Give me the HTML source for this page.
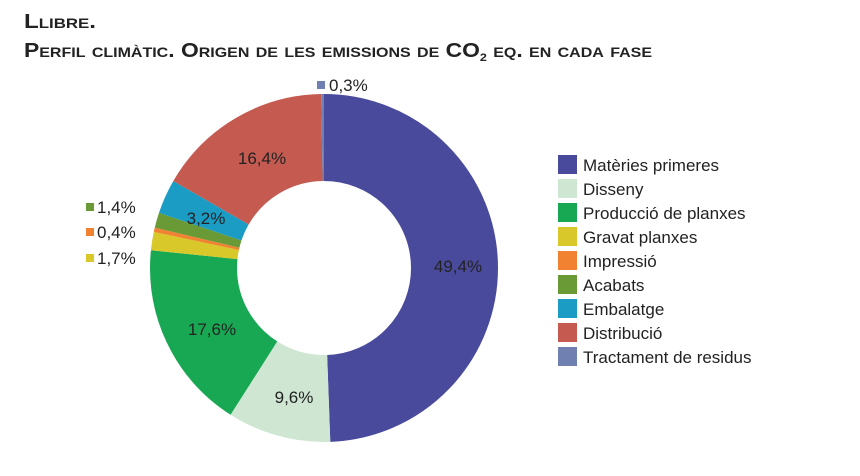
<!DOCTYPE html>
<html><head><meta charset="utf-8"><style>
body{margin:0;background:#fff;}
svg{display:block;font-family:"Liberation Sans Narrow","Liberation Sans",sans-serif;}
</style></head><body>
<svg width="860" height="476" viewBox="0 0 860 476">
<text x="24" y="28" font-size="20" font-weight="bold" fill="#222" style="font-variant:small-caps" textLength="72" lengthAdjust="spacingAndGlyphs">Llibre.</text>
<text x="24" y="57" font-size="20" font-weight="bold" fill="#222" style="font-variant:small-caps" textLength="628" lengthAdjust="spacingAndGlyphs">Perfil climàtic. Origen de les emissions de CO<tspan font-size="11" dy="4">2</tspan><tspan dy="-4"> eq. en cada fase</tspan></text>
<g transform="translate(324,268) rotate(-90)" fill="none" stroke-width="87">
<circle r="130.5" stroke="#4a4a9c" stroke-dasharray="405.06 819.96" stroke-dashoffset="0"/>
<circle r="130.5" stroke="#cfe6d3" stroke-dasharray="78.72 819.96" stroke-dashoffset="-405.06"/>
<circle r="130.5" stroke="#18a853" stroke-dasharray="144.31 819.96" stroke-dashoffset="-483.78"/>
<circle r="130.5" stroke="#d8c82a" stroke-dasharray="13.94 819.96" stroke-dashoffset="-628.09"/>
<circle r="130.5" stroke="#f08232" stroke-dasharray="3.28 819.96" stroke-dashoffset="-642.03"/>
<circle r="130.5" stroke="#6a9a36" stroke-dasharray="11.48 819.96" stroke-dashoffset="-645.31"/>
<circle r="130.5" stroke="#1a9cc4" stroke-dasharray="26.24 819.96" stroke-dashoffset="-656.79"/>
<circle r="130.5" stroke="#c45a50" stroke-dasharray="134.47 819.96" stroke-dashoffset="-683.03"/>
<circle r="130.5" stroke="#7080b0" stroke-dasharray="2.46 819.96" stroke-dashoffset="-817.50"/>
</g>
<g font-size="17" fill="#222" text-anchor="middle">
<text x="458" y="272">49,4%</text>
<text x="294" y="403">9,6%</text>
<text x="212" y="335">17,6%</text>
<text x="206" y="224">3,2%</text>
<text x="262" y="164">16,4%</text>
</g>
<g font-size="17" fill="#222">
<rect x="317" y="81" width="8" height="8" fill="#7080b0"/><text x="329" y="91">0,3%</text>
<rect x="86" y="203" width="8" height="8" fill="#6a9a36"/><text x="97" y="213">1,4%</text>
<rect x="86" y="228" width="8" height="8" fill="#f08232"/><text x="97" y="238">0,4%</text>
<rect x="86" y="254" width="8" height="8" fill="#d8c82a"/><text x="97" y="264">1,7%</text>
</g>
<g font-size="17" fill="#222">
<rect x="558" y="155" width="19" height="19" fill="#4a4a9c"/><text x="583" y="171">Matèries primeres</text>
<rect x="558" y="179" width="19" height="19" fill="#cfe6d3"/><text x="583" y="195">Disseny</text>
<rect x="558" y="203" width="19" height="19" fill="#18a853"/><text x="583" y="219">Producció de planxes</text>
<rect x="558" y="227" width="19" height="19" fill="#d8c82a"/><text x="583" y="243">Gravat planxes</text>
<rect x="558" y="251" width="19" height="19" fill="#f08232"/><text x="583" y="267">Impressió</text>
<rect x="558" y="275" width="19" height="19" fill="#6a9a36"/><text x="583" y="291">Acabats</text>
<rect x="558" y="299" width="19" height="19" fill="#1a9cc4"/><text x="583" y="315">Embalatge</text>
<rect x="558" y="323" width="19" height="19" fill="#c45a50"/><text x="583" y="339">Distribució</text>
<rect x="558" y="347" width="19" height="19" fill="#7080b0"/><text x="583" y="363">Tractament de residus</text>
</g>
</svg>
</body></html>
